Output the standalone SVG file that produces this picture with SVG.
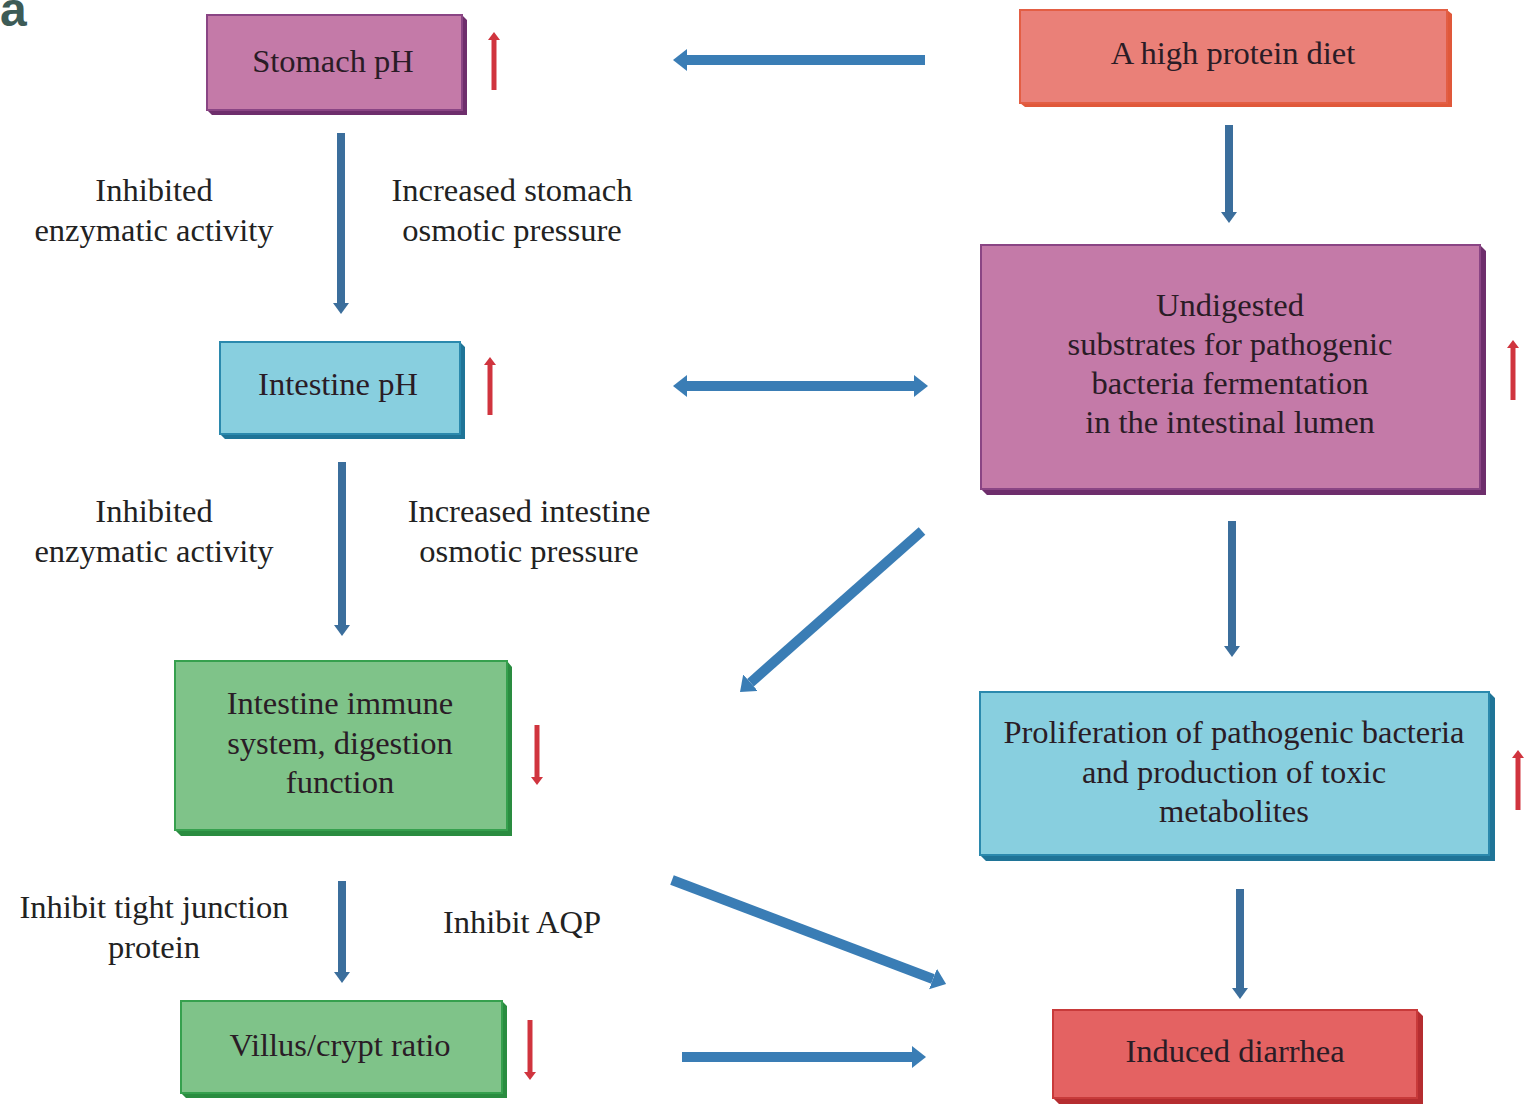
<svg xmlns="http://www.w3.org/2000/svg" width="1537" height="1110" viewBox="0 0 1537 1110">
<defs>
<marker id="bh" markerUnits="userSpaceOnUse" markerWidth="16" markerHeight="24" refX="0" refY="11" orient="auto">
<path d="M0,0 L14,11 L0,22 z" fill="#3a7db5"/>
</marker>
<marker id="bhs" markerUnits="userSpaceOnUse" markerWidth="16" markerHeight="24" refX="0" refY="11" orient="auto-start-reverse">
<path d="M0,0 L14,11 L0,22 z" fill="#3a7db5"/>
</marker>
<marker id="vh" markerUnits="userSpaceOnUse" markerWidth="20" markerHeight="20" refX="0" refY="8" orient="auto">
<path d="M0,0 L11,8 L0,16 z" fill="#3b6e9c"/>
</marker>
<marker id="rh" markerUnits="userSpaceOnUse" markerWidth="14" markerHeight="14" refX="0" refY="6" orient="auto">
<path d="M0,0 L8,6 L0,12 z" fill="#d0343e"/>
</marker>
</defs>
<style>
.t{font-family:"Liberation Serif","DejaVu Serif",serif;font-size:32.5px;fill:#2a1c26;text-anchor:middle}
.lbl{font-family:"Liberation Serif","DejaVu Serif",serif;font-size:32.5px;fill:#222;text-anchor:middle}
.ba{stroke:#3a7db5;stroke-width:10;fill:none}
.va{stroke:#3b6e9c;stroke-width:8;fill:none}
.ra{stroke:#d0343e;stroke-width:5;fill:none}
.purple .f{fill:#c47aa8;stroke:#8a4584;stroke-width:2}
.purple .e{fill:#6e2e6c}
.salmon .f{fill:#ea8078;stroke:#e35e44;stroke-width:2}
.salmon .e{fill:#e0583a}
.cyan .f{fill:#88cfdf;stroke:#2b89ad;stroke-width:2}
.cyan .e{fill:#1f7497}
.green .f{fill:#7fc389;stroke:#36a04e;stroke-width:2}
.green .e{fill:#2a8c40}
.red .f{fill:#e46262;stroke:#c83a3a;stroke-width:2}
.red .e{fill:#b52d30}
</style>
<rect width="1537" height="1110" fill="#ffffff"/>
<text x="0" y="26" font-family="Liberation Sans, sans-serif" font-weight="bold" font-size="48" fill="#3d5b56">a</text>

<g id="stomach" class="purple">
<path class="e" d="M212,115 L467,115 L467,20 L462,15 L462,110 L207,110 z"/>
<rect class="f" x="207" y="15" width="255" height="95"/>
<text class="t" x="333" y="72">Stomach pH</text>
<path class="ra" d="M494,90 L494,40" marker-end="url(#rh)"/>
</g>

<g id="diet" class="salmon">
<path class="e" d="M1025,107 L1452,107 L1452,14 L1447,10 L1447,103 L1020,103 z"/>
<rect class="f" x="1020" y="10" width="427" height="93"/>
<text class="t" x="1233" y="64">A high protein diet</text>
</g>

<g id="intestine-ph" class="cyan">
<path class="e" d="M225,439 L465,439 L465,347 L460,342 L460,434 L220,434 z"/>
<rect class="f" x="220" y="342" width="240" height="92"/>
<text class="t" x="338" y="395">Intestine pH</text>
<path class="ra" d="M490,415 L490,365" marker-end="url(#rh)"/>
</g>

<g id="undigested" class="purple">
<path class="e" d="M987,495 L1486,495 L1486,251 L1480,245 L1480,489 L981,489 z"/>
<rect class="f" x="981" y="245" width="499" height="244"/>
<text class="t" x="1230" y="316">Undigested</text>
<text class="t" x="1230" y="355">substrates for pathogenic</text>
<text class="t" x="1230" y="394">bacteria fermentation</text>
<text class="t" x="1230" y="433">in the intestinal lumen</text>
<path class="ra" d="M1513,400 L1513,348" marker-end="url(#rh)"/>
</g>

<g id="immune" class="green">
<path class="e" d="M181,836 L512,836 L512,667 L507,661 L507,830 L175,830 z"/>
<rect class="f" x="175" y="661" width="332" height="169"/>
<text class="t" x="340" y="714">Intestine immune</text>
<text class="t" x="340" y="754">system, digestion</text>
<text class="t" x="340" y="793">function</text>
<path class="ra" d="M537,725 L537,777" marker-end="url(#rh)"/>
</g>

<g id="proliferation" class="cyan">
<path class="e" d="M986,861 L1495,861 L1495,698 L1489,692 L1489,855 L980,855 z"/>
<rect class="f" x="980" y="692" width="509" height="163"/>
<text class="t" x="1234" y="743">Proliferation of pathogenic bacteria</text>
<text class="t" x="1234" y="783">and production of toxic</text>
<text class="t" x="1234" y="822">metabolites</text>
<path class="ra" d="M1518,810 L1518,758" marker-end="url(#rh)"/>
</g>

<g id="villus" class="green">
<path class="e" d="M186,1098 L507,1098 L507,1006 L502,1001 L502,1093 L181,1093 z"/>
<rect class="f" x="181" y="1001" width="321" height="92"/>
<text class="t" x="340" y="1056">Villus/crypt ratio</text>
<path class="ra" d="M530,1020 L530,1072" marker-end="url(#rh)"/>
</g>

<g id="diarrhea" class="red">
<path class="e" d="M1059,1104 L1423,1104 L1423,1016 L1417,1010 L1417,1098 L1053,1098 z"/>
<rect class="f" x="1053" y="1010" width="364" height="88"/>
<text class="t" x="1235" y="1062">Induced diarrhea</text>
</g>

<g id="labels">
<text class="lbl" x="154" y="201">Inhibited</text>
<text class="lbl" x="154" y="241">enzymatic activity</text>
<text class="lbl" x="512" y="201">Increased stomach</text>
<text class="lbl" x="512" y="241">osmotic pressure</text>
<text class="lbl" x="154" y="522">Inhibited</text>
<text class="lbl" x="154" y="562">enzymatic activity</text>
<text class="lbl" x="529" y="522">Increased intestine</text>
<text class="lbl" x="529" y="562">osmotic pressure</text>
<text class="lbl" x="154" y="918">Inhibit tight junction</text>
<text class="lbl" x="154" y="958">protein</text>
<text class="lbl" x="522" y="933">Inhibit AQP</text>
</g>

<g id="connectors">
<path class="ba" d="M925,60 L687,60" marker-end="url(#bh)"/>
<path class="ba" d="M687,386 L914,386" marker-start="url(#bhs)" marker-end="url(#bh)"/>
<path class="va" d="M341,133 L341,303" marker-end="url(#vh)"/>
<path class="va" d="M1229,125 L1229,212" marker-end="url(#vh)"/>
<path class="va" d="M342,462 L342,625" marker-end="url(#vh)"/>
<path class="va" d="M1232,521 L1232,646" marker-end="url(#vh)"/>
<path class="va" d="M342,881 L342,972" marker-end="url(#vh)"/>
<path class="va" d="M1240,889 L1240,988" marker-end="url(#vh)"/>
<path class="ba" d="M922,531 L750.5,682.7" marker-end="url(#bh)"/>
<path class="ba" d="M672,880 L933,979" marker-end="url(#bh)"/>
<path class="ba" d="M682,1057 L912,1057" marker-end="url(#bh)"/>
</g>
</svg>
